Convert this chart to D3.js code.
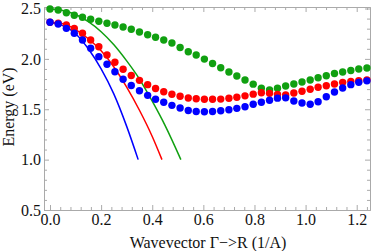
<!DOCTYPE html>
<html>
<head>
<meta charset="utf-8">
<script src="https://cdn.jsdelivr.net/npm/d3@7"></script>
<style>
    html, body { margin: 0; padding: 0; background: #fff; }
    svg { display: block; }
    text { font-family: "Liberation Serif", "DejaVu Serif", serif; fill: #111; }
</style>
</head>
<body>
<svg id="chart" width="374" height="251"></svg>
<script>
// wavevector of the computed band points
const kDots = [0, 0.032, 0.064, 0.095, 0.127, 0.159, 0.191, 0.223, 0.254, 0.286,
    0.318, 0.350, 0.382, 0.413, 0.445, 0.477, 0.509, 0.541, 0.572, 0.604,
    0.636, 0.668, 0.700, 0.731, 0.763, 0.795, 0.827, 0.859, 0.890, 0.922,
    0.954, 0.986, 1.018, 1.049, 1.081, 1.113, 1.145, 1.177, 1.208, 1.240];

const greenDots = [2.495, 2.485, 2.458, 2.433, 2.413, 2.393, 2.373, 2.353, 2.336, 2.316,
    2.294, 2.267, 2.240, 2.215, 2.187, 2.158, 2.113, 2.071, 2.038, 1.998,
    1.954, 1.912, 1.870, 1.830, 1.790, 1.749, 1.709, 1.691, 1.709, 1.731,
    1.751, 1.770, 1.790, 1.812, 1.832, 1.855, 1.870, 1.885, 1.900, 1.909];

const redDots = [2.363, 2.353, 2.336, 2.303, 2.254, 2.187, 2.121, 2.038, 1.966, 1.897,
    1.835, 1.787, 1.744, 1.706, 1.674, 1.649, 1.629, 1.612, 1.604, 1.600,
    1.600, 1.601, 1.609, 1.619, 1.633, 1.650, 1.664, 1.658, 1.648, 1.641,
    1.661, 1.678, 1.698, 1.718, 1.734, 1.751, 1.767, 1.777, 1.783, 1.790];

const blueDots = [2.363, 2.346, 2.303, 2.254, 2.187, 2.105, 2.022, 1.946, 1.873, 1.798,
    1.736, 1.683, 1.638, 1.600, 1.569, 1.539, 1.512, 1.487, 1.478, 1.475,
    1.477, 1.485, 1.495, 1.509, 1.525, 1.549, 1.569, 1.590, 1.610, 1.613,
    1.582, 1.562, 1.550, 1.575, 1.624, 1.671, 1.711, 1.744, 1.767, 1.782];

// parabolic (effective mass) curves
const blueLineK = [0, 0.05, 0.10, 0.15, 0.20, 0.25, 0.30, 0.345];
const blueLineE = [2.36, 2.33, 2.25, 2.10, 1.90, 1.65, 1.33, 1.00];
const redLineK = [0, 0.05, 0.10, 0.15, 0.20, 0.25, 0.30, 0.35, 0.40, 0.438];
const redLineE = [2.36, 2.35, 2.29, 2.20, 2.08, 1.92, 1.72, 1.49, 1.23, 1.00];
const greenLineK = [0, 0.05, 0.10, 0.15, 0.20, 0.25, 0.30, 0.35, 0.40, 0.45, 0.512];
const greenLineE = [2.495, 2.48, 2.44, 2.37, 2.27, 2.14, 1.98, 1.80, 1.58, 1.34, 1.00];

const xTicks = [0, 0.2, 0.4, 0.6, 0.8, 1.0, 1.2];
const yTicks = [0.5, 1.0, 1.5, 2.0, 2.5];

const COLORS = { green: "#10a010", red: "#ff0000", blue: "#0000ff" };
const FRAME = "#aaaaaa";

const box = { left: 44, right: 370, top: 7, bottom: 210 };

const x = d3.scaleLinear().domain([-0.0235, 1.252]).range([box.left, box.right]);
const y = d3.scaleLinear().domain([0.5, 2.515]).range([box.bottom, box.top]);

const svg = d3.select("#chart");

drawFrame();
drawLines();
drawDots();
drawTitles();

function drawFrame() {
    const xMinor = d3.range(0, 1.25, 0.04).filter(v => Math.abs(v / 0.2 - Math.round(v / 0.2)) > 0.01);
    const yMinor = d3.range(0.5, 2.51, 0.1).filter(v => Math.abs(v / 0.5 - Math.round(v / 0.5)) > 0.01);

    const sides = [
        { axis: d3.axisBottom, pos: `translate(0,${box.bottom})`, scale: x, major: xTicks, minor: xMinor, labels: true },
        { axis: d3.axisTop, pos: `translate(0,${box.top})`, scale: x, major: xTicks, minor: xMinor, labels: false },
        { axis: d3.axisLeft, pos: `translate(${box.left},0)`, scale: y, major: yTicks, minor: yMinor, labels: true },
        { axis: d3.axisRight, pos: `translate(${box.right},0)`, scale: y, major: yTicks, minor: yMinor, labels: false }
    ];

    sides.forEach(s => {
        const g = svg.append("g").attr("transform", s.pos);

        g.call(s.axis(s.scale)
            .tickValues(s.major)
            .tickSize(-5)
            .tickPadding(s.axis === d3.axisLeft ? 3 : 4)
            .tickFormat(s.labels ? d3.format(".1f") : ""));

        g.append("g").call(s.axis(s.scale)
            .tickValues(s.minor)
            .tickSize(-3)
            .tickFormat(""))
            .select(".domain").remove();

        g.selectAll(".domain").attr("stroke", FRAME);
        g.selectAll(".tick line").attr("stroke", FRAME);
        g.selectAll(".tick text")
            .style("font-size", "16px")
            .attr("fill", "#111");
    });
}

function drawLines() {
    const line = d3.line()
        .x(d => x(d[0]))
        .y(d => y(d[1]))
        .curve(d3.curveMonotoneX);

    const curves = [
        { k: greenLineK, e: greenLineE, color: COLORS.green },
        { k: redLineK, e: redLineE, color: COLORS.red },
        { k: blueLineK, e: blueLineE, color: COLORS.blue }
    ];

    curves.forEach(c => {
        svg.append("path")
            .datum(d3.zip(c.k, c.e))
            .attr("d", line)
            .attr("fill", "none")
            .attr("stroke", c.color)
            .attr("stroke-width", 1.5);
    });
}

function drawDots() {
    const bands = [
        { e: greenDots, color: COLORS.green },
        { e: redDots, color: COLORS.red },
        { e: blueDots, color: COLORS.blue }
    ];

    bands.forEach(b => {
        svg.append("g")
            .selectAll("circle")
            .data(d3.zip(kDots, b.e))
            .join("circle")
            .attr("cx", d => x(d[0]))
            .attr("cy", d => y(d[1]))
            .attr("r", 3.7)
            .attr("fill", b.color);
    });
}

function drawTitles() {
    svg.append("text")
        .attr("x", 208)
        .attr("y", 248)
        .attr("text-anchor", "middle")
        .style("font-size", "16px")
        .text("Wavevector Γ−>R (1/A)");

    svg.append("text")
        .attr("transform", "translate(14,107) rotate(-90)")
        .attr("text-anchor", "middle")
        .style("font-size", "16px")
        .text("Energy (eV)");
}
</script>
</body>
</html>
